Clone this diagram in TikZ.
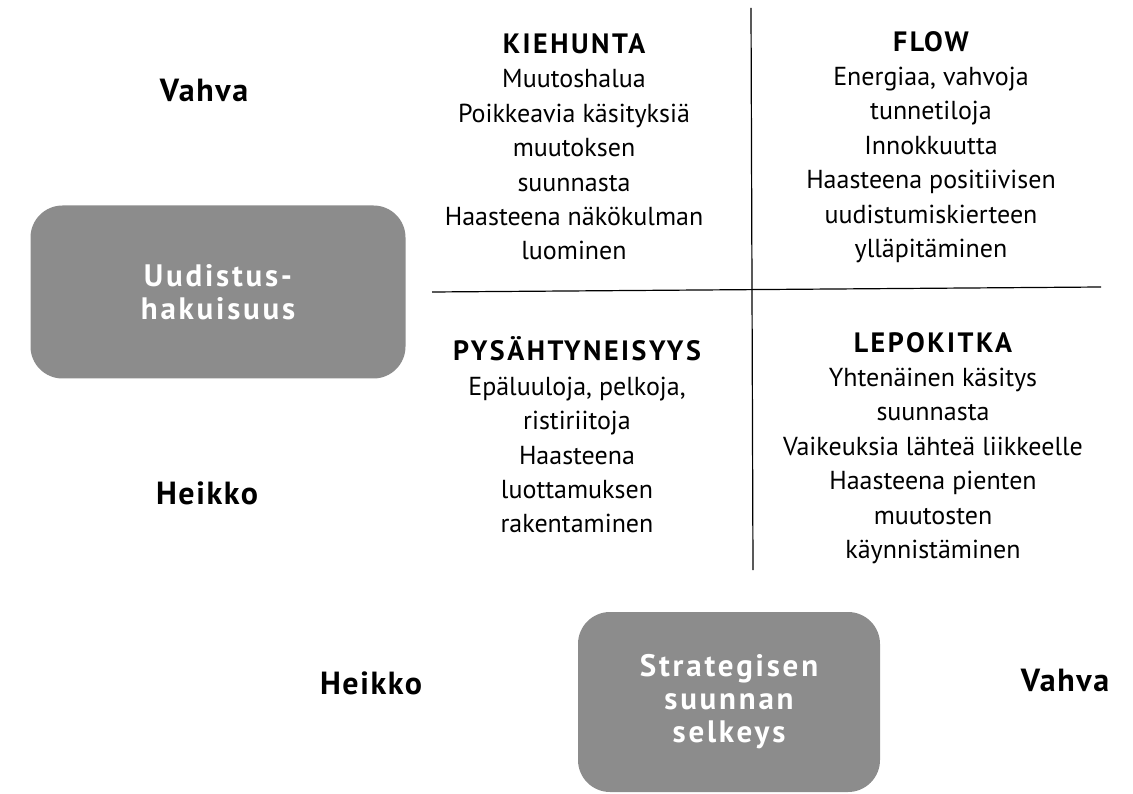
\documentclass[tikz,border=0pt]{standalone}
\usepackage{fontspec}
\setmainfont{PT Sans}
\usepackage{tikz}
\usetikzlibrary{positioning}

\newcommand{\qtitle}[1]{{\fontsize{28}{34.4}\selectfont\bfseries\addfontfeatures{LetterSpace=9}#1}}

\tikzset{
    quad/.style={align=center, font=\fontsize{26}{34.4}\selectfont},
    axislabel/.style={font=\fontsize{32}{34}\selectfont\bfseries\addfontfeatures{LetterSpace=5}},
    greybox/.style={fill=black!45, rounded corners=32pt, align=center, text=white,
        font=\fontsize{31}{33}\selectfont\bfseries\addfontfeatures{LetterSpace=9}},
    axis/.style={line width=1.2pt}
}

\begin{document}
\begin{tikzpicture}[x=1pt,y=-1pt]
    \useasboundingbox (0,0) rectangle (1133,794);

    % axes
    \coordinate (vtop) at (751,8);
    \coordinate (vbot) at (753,570);
    \coordinate (hleft) at (432,292);
    \coordinate (hright) at (1101,287);
    \draw[axis] (vtop) -- (vbot);
    \draw[axis] (hleft) -- (hright);

    % quadrants
    \node[quad] (kiehunta) at (574,147) {\qtitle{KIEHUNTA}\\Muutoshalua\\Poikkeavia käsityksiä\\muutoksen\\suunnasta\\Haasteena näkökulman\\luominen};
    \node[quad] (flow) at (931,147) {\qtitle{FLOW}\\Energiaa, vahvoja\\tunnetiloja\\Innokkuutta\\Haasteena positiivisen\\uudistumiskierteen\\ylläpitäminen};
    \node[quad] (pysahtyneisyys) at (577,435) {\qtitle{PYSÄHTYNEISYYS}\\Epäluuloja, pelkoja,\\ristiriitoja\\Haasteena\\luottamuksen\\rakentaminen};
    \node[quad] (lepokitka) at (933,448) {\qtitle{LEPOKITKA}\\Yhtenäinen käsitys\\suunnasta\\Vaikeuksia lähteä liikkeelle\\Haasteena pienten\\muutosten\\käynnistäminen};

    % vertical axis
    \node[axislabel] (vvahva) at (204,90) {Vahva};
    \node[greybox, minimum width=375pt, minimum height=173pt] (uudistus) at (218,292) {Uudistus-\\hakuisuus};
    \node[axislabel] (vheikko) at (207,493) {Heikko};

    % horizontal axis
    \node[axislabel] (hheikko) at (371,683) {Heikko};
    \node[greybox, minimum width=302pt, minimum height=180pt] (strategia) at (729,702) {Strategisen\\suunnan\\selkeys};
    \node[axislabel] (hvahva) at (1065,680) {Vahva};
\end{tikzpicture}
\end{document}
